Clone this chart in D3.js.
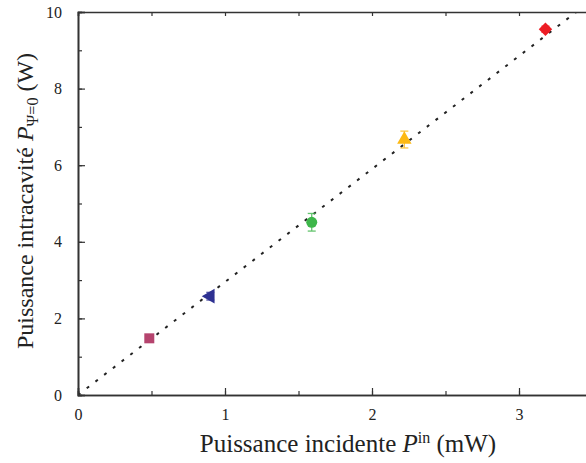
<!DOCTYPE html>
<html><head><meta charset="utf-8">
<script src="https://cdn.jsdelivr.net/npm/d3@7"></script>
<style>body{margin:0;background:#fff}svg{display:block}</style>
</head><body>
<script>
const xs = [0.485, 0.90, 1.59, 2.22, 3.18];
const ys = [1.48, 2.58, 4.51, 6.67, 9.55];
const errs = [0.05, 0.1, 0.23, 0.22, 0.08];
const shapes = ["square", "triangleLeft", "circle", "triangleUp", "diamond"];
const colors = ["#b5446e", "#2e3192", "#3db64a", "#fdb913", "#ed1c24"];
const fitSlope = 2.95;
const xTicks = [0, 1, 2, 3];
const yTicks = [0, 2, 4, 6, 8, 10];

const FONT = "'Liberation Serif', 'Times New Roman', Times, serif";
const W = 586, H = 463;
const m = {l: 78, t: 12, b: 395};
const svg = d3.select("body").append("svg").attr("width", W).attr("height", H)
  .attr("font-family", FONT);
const x = d3.scaleLinear().domain([0, 3.5]).range([m.l, m.l + 3.5 * 147]);
const y = d3.scaleLinear().domain([0, 10]).range([m.b, m.t]);

svg.append("clipPath").attr("id", "c").append("rect")
  .attr("x", m.l).attr("y", m.t).attr("width", W - m.l).attr("height", m.b - m.t);

// fit line
svg.append("g").attr("clip-path", "url(#c)")
  .append("line").attr("x1", x(0)).attr("y1", y(0)).attr("x2", x(10 / fitSlope)).attr("y2", y(10))
  .attr("stroke", "#222").attr("stroke-width", 2).attr("stroke-dasharray", "3,8");

// axes
const ax = (sel, axis) => {
  sel.call(axis).attr("font-family", FONT).attr("font-size", 16);
  sel.select(".domain").attr("stroke", "#333").attr("stroke-width", 1.6);
  sel.selectAll(".tick line").attr("stroke", "#333").attr("stroke-width", 1.2);
  sel.selectAll("text").attr("fill", "#222");
};
const xMinor = d3.range(0, 3.51, 0.5);
const yMinor = d3.range(0, 10.01, 1);
svg.append("g").attr("transform", `translate(0,${m.b})`)
  .call(s => ax(s, d3.axisBottom(x).tickValues(xMinor).tickSize(-4).tickFormat("")));
svg.append("g").attr("transform", `translate(0,${m.b})`)
  .call(s => ax(s, d3.axisBottom(x).tickValues(xTicks).tickSize(-7).tickPadding(14).tickFormat(d3.format("d"))));
svg.append("g").attr("transform", `translate(0,${m.t})`)
  .call(s => ax(s, d3.axisTop(x).tickValues(xMinor).tickSize(-4).tickFormat("")));
svg.append("g").attr("transform", `translate(${m.l},0)`)
  .call(s => ax(s, d3.axisLeft(y).tickValues(yMinor).tickSize(-4).tickFormat("")));
svg.append("g").attr("transform", `translate(${m.l},0)`)
  .call(s => ax(s, d3.axisLeft(y).tickValues(yTicks).tickSize(-7).tickPadding(16).tickFormat(d3.format("d"))));

// error bars + markers
const sym = {
  square: d3.symbolSquare, circle: d3.symbolCircle, diamond: d3.symbolSquare,
  triangleUp: d3.symbolTriangle, triangleLeft: d3.symbolTriangle
};
const rot = {square: 0, circle: 0, diamond: 45, triangleUp: 0, triangleLeft: -90};
const size = {square: 100, circle: 95, diamond: 90, triangleUp: 90, triangleLeft: 95};
xs.forEach((xv, i) => {
  const cx = x(xv), cy = y(ys[i]), c = colors[i];
  const eg = svg.append("g").attr("stroke", c).attr("stroke-width", 1.3).attr("opacity", 0.8);
  eg.append("line").attr("x1", cx).attr("x2", cx).attr("y1", y(ys[i] - errs[i])).attr("y2", y(ys[i] + errs[i]));
  [ys[i] - errs[i], ys[i] + errs[i]].forEach(v => eg.append("line").attr("x1", cx - 4).attr("x2", cx + 4).attr("y1", y(v)).attr("y2", y(v)));
  svg.append("path").attr("d", d3.symbol().type(sym[shapes[i]]).size(size[shapes[i]])())
    .attr("transform", `translate(${cx},${cy}) rotate(${rot[shapes[i]]})`).attr("fill", c);
});

// axis titles
const xl = svg.append("text").attr("x", 348).attr("y", 452).attr("text-anchor", "middle").attr("font-size", 25).attr("fill", "#222");
xl.append("tspan").text("Puissance incidente ");
xl.append("tspan").attr("font-style", "italic").text("P");
xl.append("tspan").attr("font-size", 16).attr("dy", -9).text("in");
xl.append("tspan").attr("dy", 9).text(" (mW)");

const yl = svg.append("text").attr("transform", "translate(33,201) rotate(-90)").attr("text-anchor", "middle").attr("font-size", 24).attr("fill", "#222");
yl.append("tspan").text("Puissance intracavité ");
yl.append("tspan").attr("font-style", "italic").text("P");
yl.append("tspan").attr("font-size", 16).attr("dy", 5).text("Ψ=0");
yl.append("tspan").attr("dy", -5).text(" (W)");
</script>
</body></html>
